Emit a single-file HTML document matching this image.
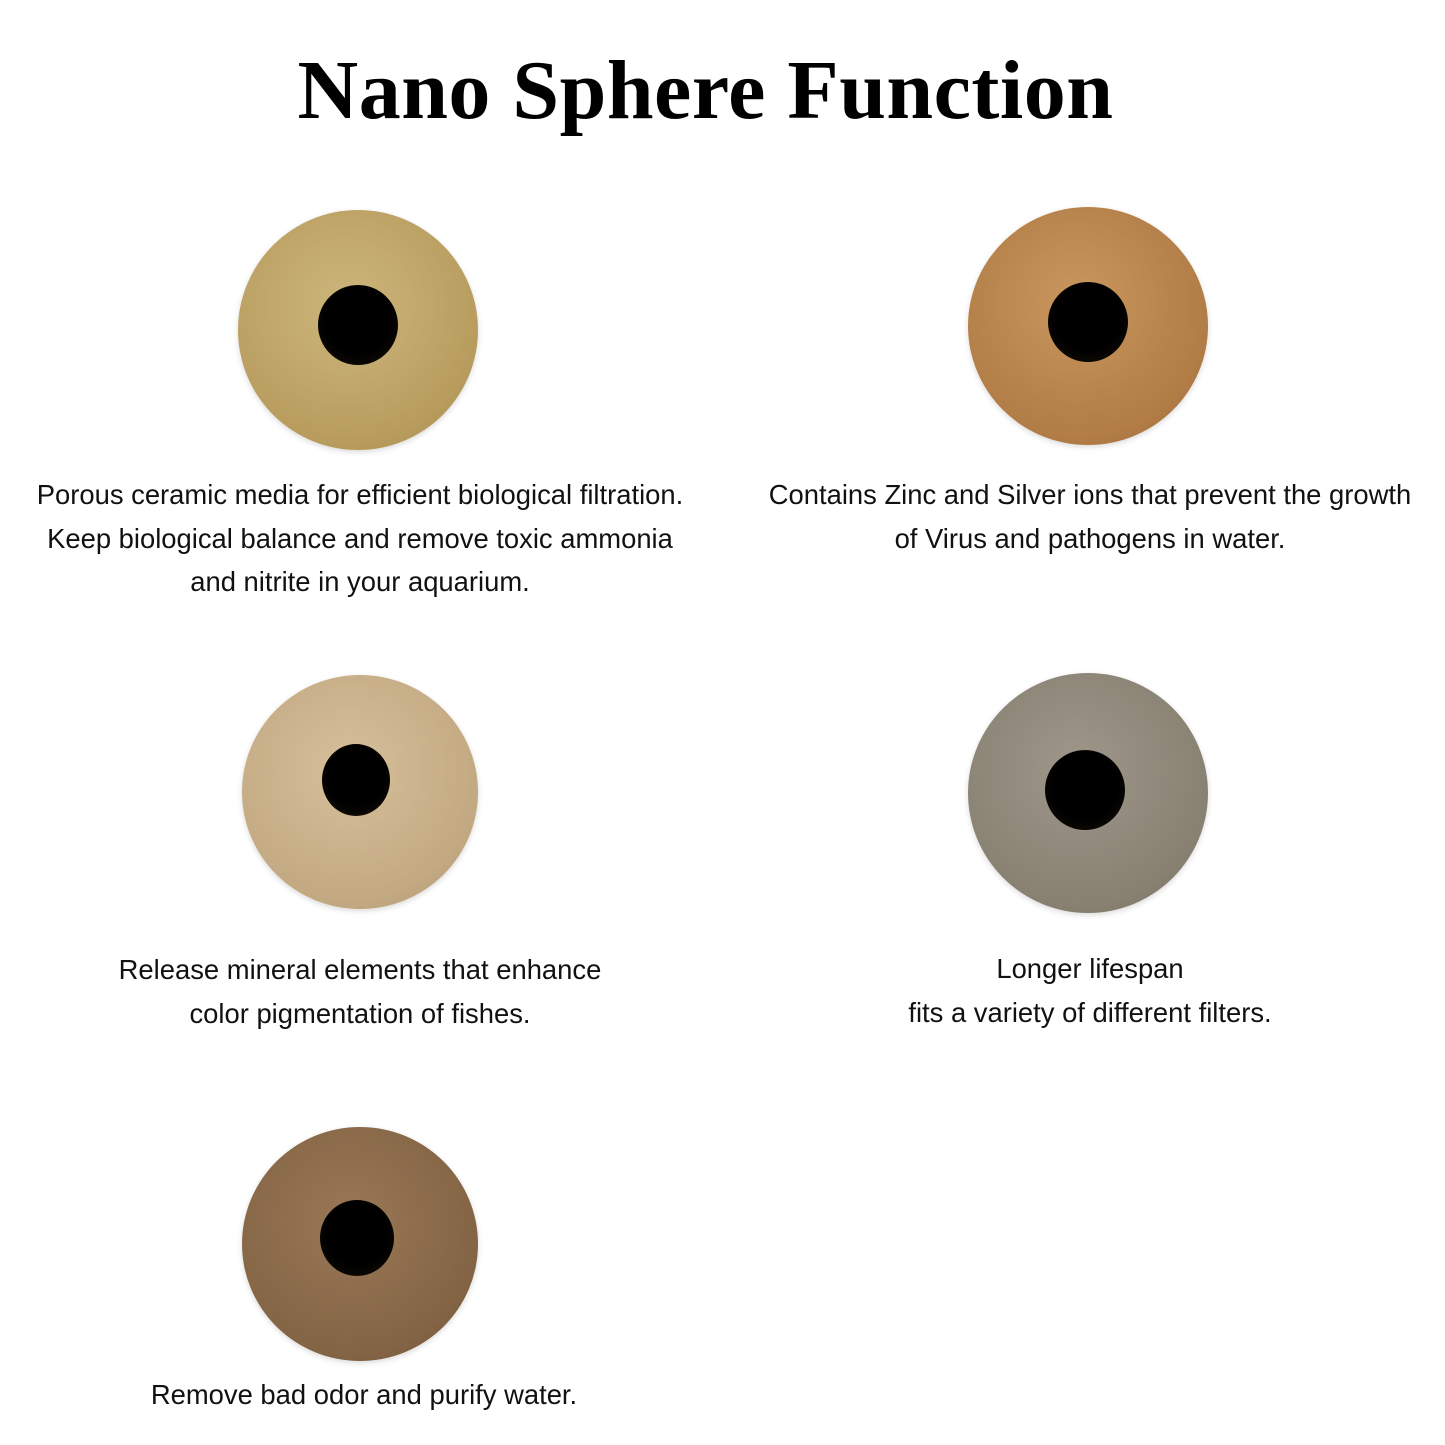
<!DOCTYPE html>
<html><head><meta charset="utf-8"><style>
html,body{margin:0;padding:0;background:#fff;}
body{width:1445px;height:1445px;position:relative;overflow:hidden;}
.t{position:absolute;left:-17px;width:1445px;top:42px;text-align:center;font-family:"Liberation Serif",serif;font-weight:bold;font-size:84px;color:#000;letter-spacing:0.5px;}
.s{position:absolute;border-radius:50%;box-shadow:0 2px 6px rgba(0,0,0,0.15);}
.h{position:absolute;border-radius:50%;background:radial-gradient(circle at 50% 45%,#000 55%,#1a1208 100%);}
.c{position:absolute;text-align:center;font-family:"Liberation Sans",sans-serif;font-size:27.4px;line-height:43.5px;color:#111;white-space:nowrap;}
</style></head><body>
<div class="t">Nano Sphere Function</div>

<div class="s" style="left:238px;top:210px;width:240px;height:240px;background:radial-gradient(circle at 45% 40%,#cdb67c,#b89c5e 70%,#a3884c);"></div>
<div class="h" style="left:318px;top:285px;width:80px;height:80px;"></div>
<div class="c" style="left:0;width:720px;top:473px;">Porous ceramic media for efficient biological filtration.<br>Keep biological balance and remove toxic ammonia<br>and nitrite in your aquarium.</div>

<div class="s" style="left:968px;top:207px;width:240px;height:238px;background:radial-gradient(circle at 45% 40%,#c8975e,#b17c46 70%,#9a6a3a);"></div>
<div class="h" style="left:1048px;top:282px;width:80px;height:80px;"></div>
<div class="c" style="left:735px;width:710px;top:473px;">Contains Zinc and Silver ions that prevent the growth<br>of Virus and pathogens in water.</div>

<div class="s" style="left:242px;top:675px;width:236px;height:234px;background:radial-gradient(circle at 45% 40%,#d5bf9a,#c3a982 70%,#ad936c);"></div>
<div class="h" style="left:322px;top:744px;width:68px;height:72px;"></div>
<div class="c" style="left:0;width:720px;top:948px;">Release mineral elements that enhance<br>color pigmentation of fishes.</div>

<div class="s" style="left:968px;top:673px;width:240px;height:240px;background:radial-gradient(circle at 45% 40%,#9e978a,#888172 70%,#756e60);"></div>
<div class="h" style="left:1045px;top:750px;width:80px;height:80px;"></div>
<div class="c" style="left:735px;width:710px;top:947px;">Longer lifespan<br>fits a variety of different filters.</div>

<div class="s" style="left:242px;top:1127px;width:236px;height:234px;background:radial-gradient(circle at 45% 40%,#997856,#836444 70%,#6e5236);"></div>
<div class="h" style="left:320px;top:1200px;width:74px;height:76px;"></div>
<div class="c" style="left:0;width:728px;top:1373px;">Remove bad odor and purify water.</div>
</body></html>
